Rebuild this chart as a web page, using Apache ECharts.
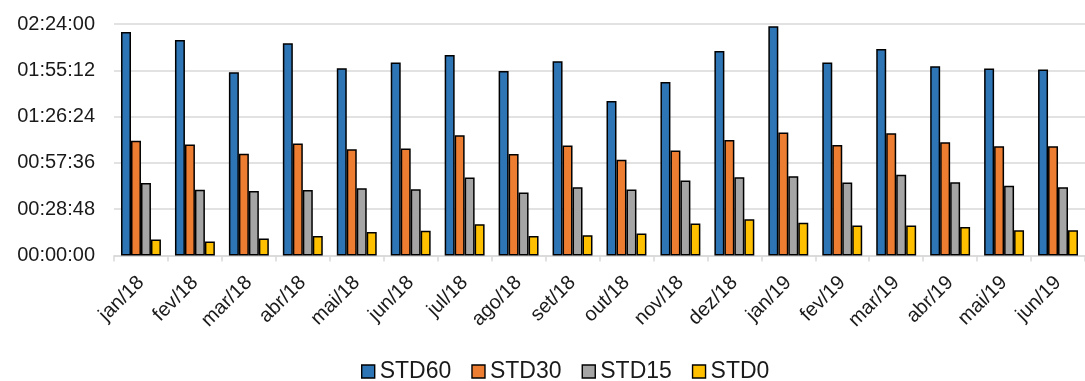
<!DOCTYPE html>
<html>
<head>
<meta charset="utf-8">
<script src="https://cdn.jsdelivr.net/npm/echarts@6/dist/echarts.min.js"></script>
<style>
  html, body { margin: 0; padding: 0; background: #ffffff; }
  #chart { width: 1085px; height: 381px; }
</style>
</head>
<body>
<div id="chart"></div>
<script>
// Monthly durations per standard, in seconds
const months = ['jan/18','fev/18','mar/18','abr/18','mai/18','jun/18','jul/18','ago/18','set/18',
                'out/18','nov/18','dez/18','jan/19','fev/19','mar/19','abr/19','mai/19','jun/19'];
const std60 = [8340, 8040, 6840, 7920, 6990, 7200, 7480, 6890, 7250, 5770, 6480, 7630, 8560, 7200, 7710, 7060, 6980, 6940];
const std30 = [4280, 4140, 3800, 4180, 3970, 3990, 4490, 3790, 4110, 3570, 3920, 4310, 4590, 4120, 4560, 4230, 4080, 4080];
const std15 = [2710, 2450, 2410, 2440, 2510, 2470, 2910, 2350, 2550, 2460, 2800, 2920, 2960, 2720, 3010, 2730, 2600, 2550];
const std0  = [600, 520, 630, 730, 880, 920, 1170, 730, 760, 820, 1190, 1350, 1220, 1120, 1120, 1060, 940, 940];
const seriesNames = ['STD60', 'STD30', 'STD15', 'STD0'];
const seriesColors = ['#2E75B6', '#ED7D31', '#A5A5A5', '#FFC000'];

const pad = n => String(n).padStart(2, '0');
function hms(sec) {
  const h = Math.floor(sec / 3600);
  const m = Math.floor((sec % 3600) / 60);
  const s = Math.round(sec % 60);
  return pad(h) + ':' + pad(m) + ':' + pad(s);
}

const font = '"Liberation Sans", Arial, sans-serif';
const chart = echarts.init(document.getElementById('chart'), null, { renderer: 'canvas' });

const values = [std60, std30, std15, std0];
chart.setOption({
  animation: false,
  backgroundColor: '#ffffff',
  grid: { left: 114, top: 24, width: 985, height: 231.5, containLabel: false },
  legend: {
    left: 356, top: 355,
    itemWidth: 13, itemHeight: 13, itemGap: 20,
    icon: 'rect',
    textStyle: { fontFamily: font, fontSize: 23, color: '#1a1a1a' },
    itemStyle: { borderColor: '#000', borderWidth: 1.4 },
    data: seriesNames
  },
  xAxis: {
    type: 'category',
    data: months,
    axisLine: { lineStyle: { color: '#D9D9D9', width: 1.5 } },
    axisTick: { show: true, length: 6, lineStyle: { color: '#D9D9D9', width: 1.5 } },
    axisLabel: {
      rotate: 45, fontFamily: font, fontSize: 20, color: '#1a1a1a',
      margin: 24, interval: 0, align: 'right', verticalAlign: 'middle'
    }
  },
  yAxis: {
    type: 'value',
    min: 0, max: 8640, interval: 1728,
    axisLine: { show: false },
    axisTick: { show: false },
    splitLine: { lineStyle: { color: '#D9D9D9', width: 1.5 } },
    axisLabel: { formatter: v => hms(v), fontFamily: font, fontSize: 20, color: '#1a1a1a', margin: 19 }
  },
  series: seriesNames.map((name, i) => ({
    name: name,
    type: 'bar',
    data: values[i],
    barGap: '0%',
    barCategoryGap: '26%',
    itemStyle: { color: seriesColors[i], borderColor: '#000', borderWidth: 1.5 }
  }))
});
</script>
</body>
</html>
